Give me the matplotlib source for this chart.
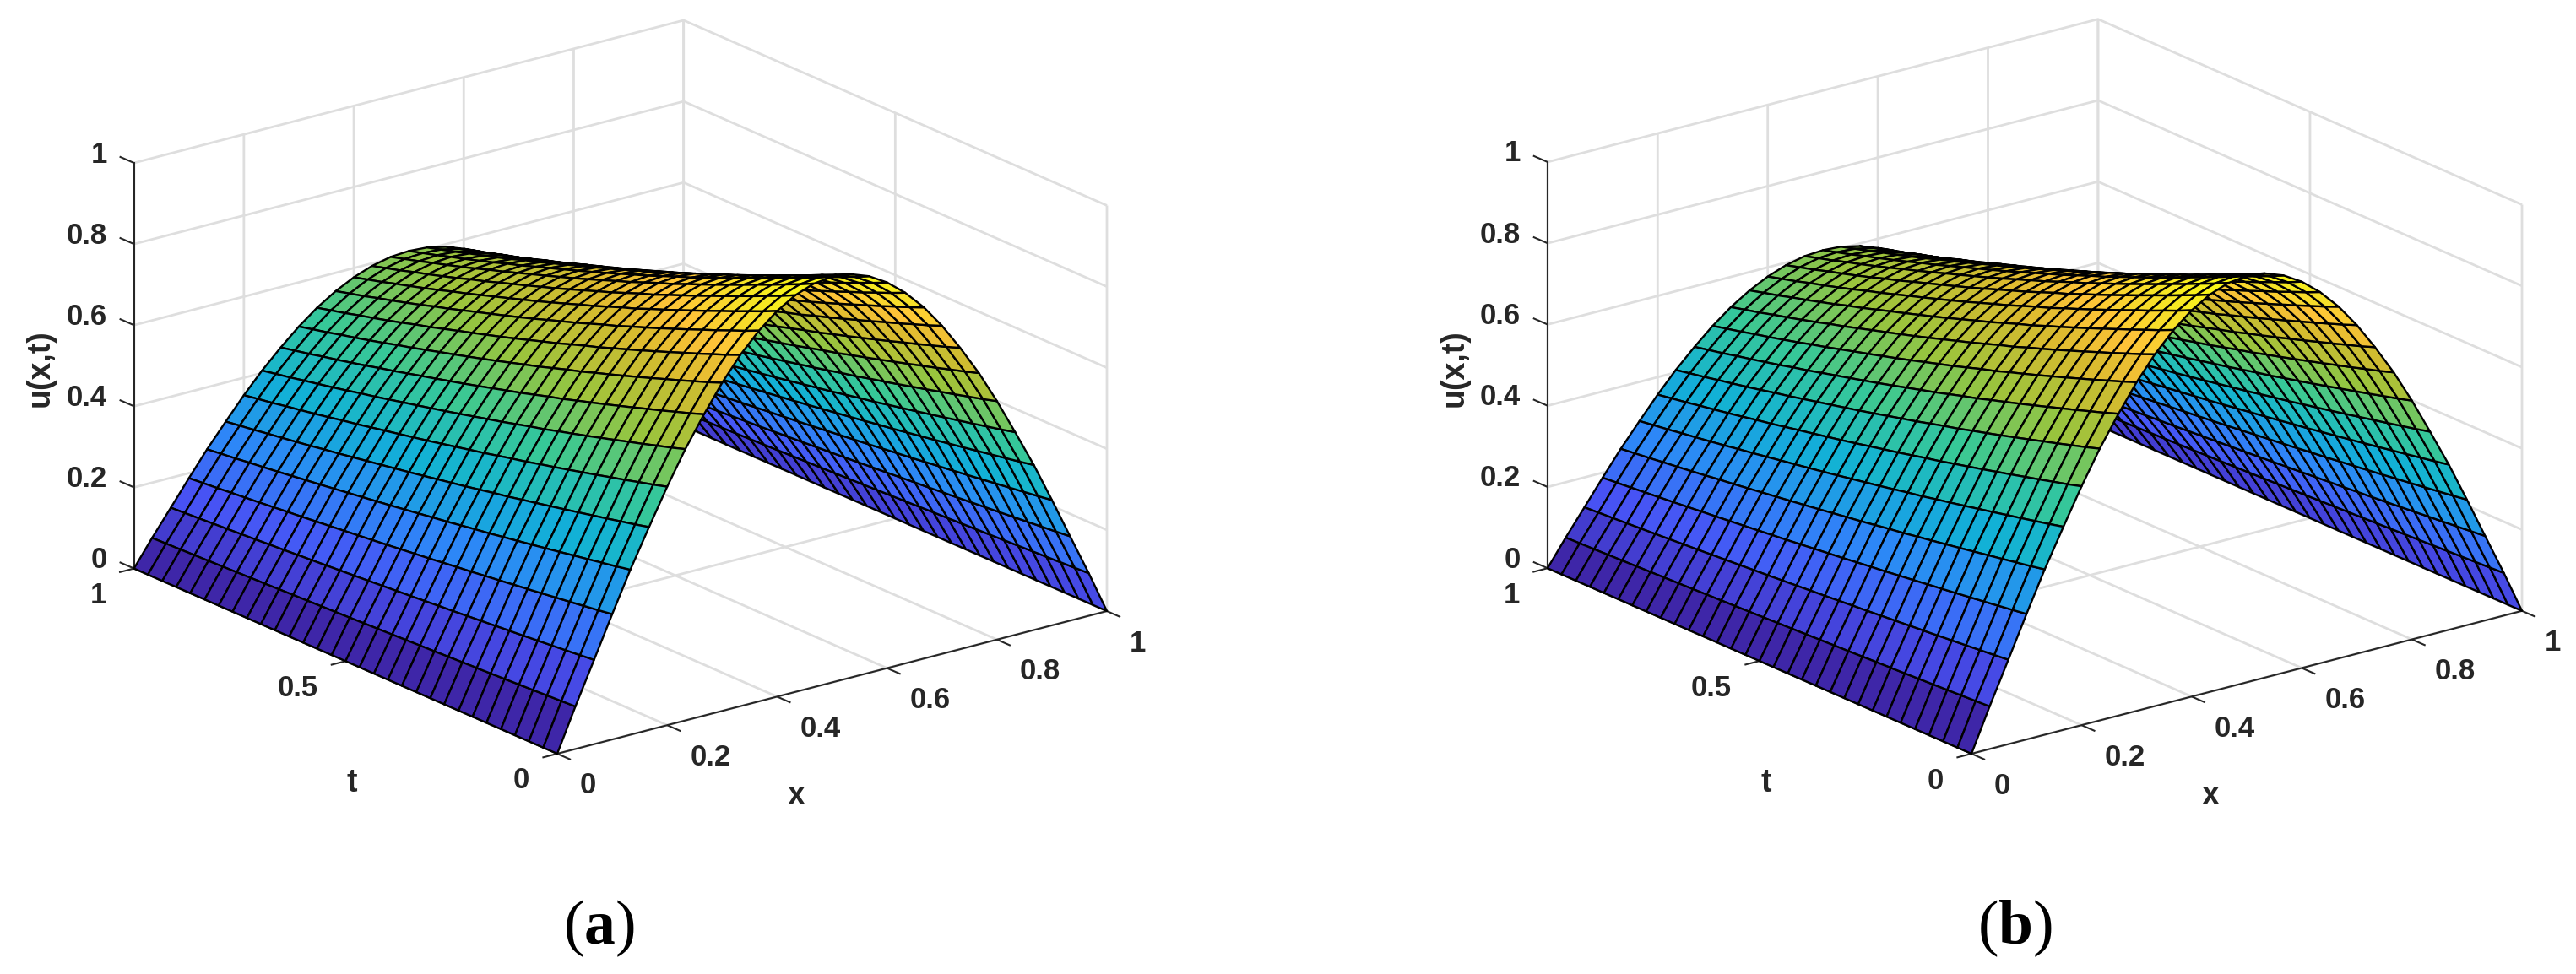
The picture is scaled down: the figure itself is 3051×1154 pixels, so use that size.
import numpy as np
import matplotlib
matplotlib.use("Agg")
import matplotlib.pyplot as plt
from matplotlib.colors import LinearSegmentedColormap
from mpl_toolkits.mplot3d import proj3d

plt.rcParams['font.family'] = ['Liberation Sans', 'DejaVu Sans']
plt.rcParams['mathtext.fontset'] = 'custom'
plt.rcParams['mathtext.bf'] = 'Liberation Serif:bold'
plt.rcParams['mathtext.rm'] = 'Liberation Serif'

x_values = [0.000, 0.033, 0.067, 0.100, 0.133, 0.167, 0.200, 0.233, 0.267, 0.300, 0.333,
            0.367, 0.400, 0.433, 0.467, 0.500, 0.533, 0.567, 0.600, 0.633, 0.667,
            0.700, 0.733, 0.767, 0.800, 0.833, 0.867, 0.900, 0.933, 0.967, 1.000]
t_values = list(x_values)
# ridge shape across x (read from the front edge of the surface)
x_profile = [0.000, 0.105, 0.208, 0.309, 0.407, 0.500, 0.588, 0.669, 0.743, 0.809, 0.866,
             0.914, 0.951, 0.978, 0.995, 1.000, 0.995, 0.978, 0.951, 0.914, 0.866,
             0.809, 0.743, 0.669, 0.588, 0.500, 0.407, 0.309, 0.208, 0.105, 0.000]
# ridge height along t (read from the crest of the surface)
t_ridge = [1.000, 0.983, 0.967, 0.951, 0.936, 0.920, 0.905, 0.890, 0.875, 0.861, 0.846,
           0.833, 0.819, 0.805, 0.792, 0.779, 0.766, 0.753, 0.741, 0.729, 0.717,
           0.705, 0.693, 0.682, 0.670, 0.659, 0.648, 0.638, 0.627, 0.617, 0.607]
x_ticks = [0, 0.2, 0.4, 0.6, 0.8, 1]
t_ticks = [0, 0.5, 1]
z_ticks = [0, 0.2, 0.4, 0.6, 0.8, 1]
x_ticklabels = ['0', '0.2', '0.4', '0.6', '0.8', '1']
t_ticklabels = ['0', '0.5', '1']
z_ticklabels = ['0', '0.2', '0.4', '0.6', '0.8', '1']
panel_names = ['a', 'b']
parula_stops = [(0.000, (0.2422, 0.1504, 0.6603)), (0.127, (0.2810, 0.3228, 0.9579)),
                (0.254, (0.1786, 0.5289, 0.9682)), (0.381, (0.0689, 0.6948, 0.8394)),
                (0.508, (0.2161, 0.7843, 0.5923)), (0.635, (0.6000, 0.7700, 0.2400)),
                (0.762, (0.8500, 0.7300, 0.1800)), (0.840, (0.9970, 0.7659, 0.2199)),
                (0.920, (0.9600, 0.8900, 0.1500)), (1.000, (0.9769, 0.9839, 0.0805))]
parula = LinearSegmentedColormap.from_list('parula', parula_stops, N=256)

W, H = 3051, 1154
fig = plt.figure(figsize=(W / 100, H / 100), dpi=100)

X, T = np.meshgrid(x_values, t_values)
U = np.outer(t_ridge, x_profile)

# pixel targets: (x0,t0,z0), (x1,t0,z0) corners of each box
targets = [((660, 893), (1311, 725)), ((2335, 893), (2987, 725))]
panel_label_x = [709.5, 2386]
GRID = '#dedede'
TXT = '#262626'
LAB = dict(fontsize=25, fontweight='bold', color=TXT, annotation_clip=False)


def draw(idx):
    ax = fig.add_axes([0.1, 0.1, 0.8 * H / W, 0.8], projection='3d', proj_type='ortho')
    ax.set_box_aspect((821, 821, 510))
    ax.view_init(elev=19.7, azim=232.4)
    ax.set_xlim(0, 1); ax.set_ylim(0, 1); ax.set_zlim(0, 1)
    ax.patch.set_alpha(0)
    ax.plot_surface(X, T, U, facecolors=parula(U), rstride=1, cstride=1, shade=False,
                    edgecolor='black', linewidth=1.7, antialiased=True)
    for axis in (ax.xaxis, ax.yaxis, ax.zaxis):
        axis.set_pane_color((1, 1, 1, 0))
        axis.line.set_color(TXT)
        axis.line.set_linewidth(1.5)
        axis._axinfo['grid'].update(color=GRID, linewidth=2.0)
        axis._axinfo['tick'].update(inward_factor=0, outward_factor=0, linewidth={True: 0, False: 0})
    ax.set_xticks(x_ticks, [''] * len(x_ticks))
    ax.set_yticks(t_ticks, [''] * len(t_ticks))
    ax.set_zticks(z_ticks, [''] * len(z_ticks))

    tick_style = dict(color=TXT, linewidth=1.5, solid_capstyle='butt')
    for v in x_ticks:
        ax.plot([v, v], [0, -0.032], [0, 0], **tick_style)
    for v in t_ticks:
        ax.plot([0, -0.027], [v, v], [0, 0], **tick_style)
    for v in z_ticks:
        ax.plot([0, 0], [1, 1.034], [v, v], **tick_style)

    # place the axes so that the box lands on its pixel targets
    fig.canvas.draw()
    def proj(p):
        a, b, _ = proj3d.proj_transform(*p, ax.get_proj())
        return a, b
    def px(p):
        return ax.transData.transform(proj(p))
    A, B = px((0, 0, 0)), px((1, 0, 0))
    (ta, tb) = targets[idx]
    r = (tb[0] - ta[0]) / (B[0] - A[0])
    pos = ax.get_position()
    side = pos.width * W * r
    cx, cy = (pos.x0 + pos.width / 2) * W, (pos.y0 + pos.height / 2) * H
    dx, dy = A[0] - cx, A[1] - cy
    ncx = ta[0] - dx * r
    ncy = (H - ta[1]) - dy * r
    ax.set_position([(ncx - side / 2) / W, (ncy - side / 2) / H, side / W, side / H])

    def note(text, point, off, **kw):
        # off is a pixel offset, x right and y down
        ax.annotate(text, proj(point), xycoords='data', xytext=(off[0] * 0.72, -off[1] * 0.72),
                    textcoords='offset points', va='center', **{**LAB, **kw})

    for v, s in zip(x_ticks, x_ticklabels):
        note(s, (v, 0, 0), (27, 38), ha='left')
    for v, s in zip(t_ticks, t_ticklabels):
        note(s, (0, v, 0), (-33, 32), ha='right')
    for v, s in zip(z_ticks, z_ticklabels):
        note(s, (0, 1, v), (-32, -10), ha='right')
    note('x', (0, 0, 0), (943 - 660, 943 - 893), ha='center', fontsize=27)
    note('t', (0, 0, 0), (417 - 660, 928 - 893), ha='center', fontsize=27)
    note('u(x,t)', (0, 0, 0), (48 - 660, 436 - 893), ha='center', fontsize=27, rotation=90)
    fig.text(panel_label_x[idx] / W, 1 - 1100 / H, r'($\mathbf{%s}$)' % panel_names[idx],
             fontsize=53, ha='center', va='center', family='Liberation Serif', color='black')


for i in range(2):
    draw(i)

fig.savefig('out.png', dpi=100)
